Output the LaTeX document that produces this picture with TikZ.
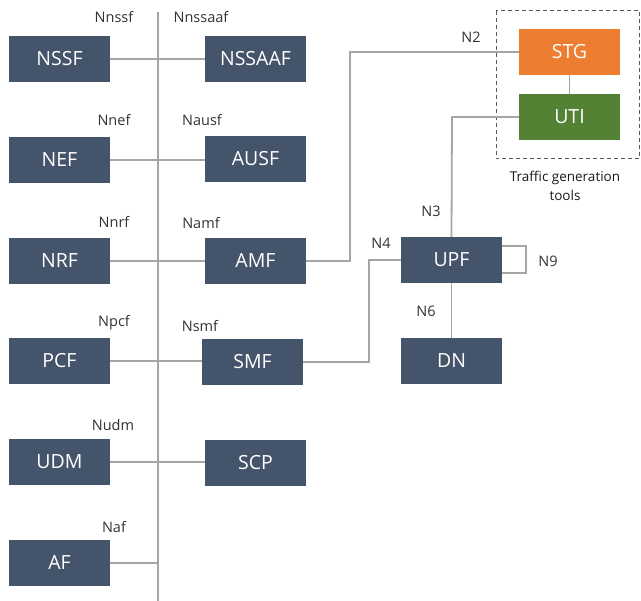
\documentclass[tikz,border=0pt]{standalone}
\usepackage{fontspec}
\setmainfont{Open Sans}
\usetikzlibrary{positioning}
\definecolor{nfblue}{HTML}{44546A}
\definecolor{stgorange}{HTML}{ED7D31}
\definecolor{utigreen}{HTML}{548235}
\definecolor{linkgray}{HTML}{A6A6A6}
\tikzset{
    core diagram/.style = {x=1pt, y=-1pt},
    nf/.style           = {fill=nfblue, text=white, inner sep=0pt,
                           minimum width=101pt, minimum height=46pt,
                           font=\fontsize{19.5}{22}\selectfont},
    tool/.style         = {nf, fill=#1},
    link/.style         = {draw=linkgray, line width=1.8pt},
    iface/.style        = {text=black!80, font=\fontsize{14.5}{17}\selectfont},
    caption/.style      = {text=black!90, align=center,
                           font=\fontsize{13.5}{19}\selectfont},
    toolbox/.style      = {draw=black!65, line width=1pt,
                           dash pattern=on 4pt off 3pt}
}

\begin{document}
\begin{tikzpicture}[core diagram]
\useasboundingbox (0,0) rectangle (641,601);

% ================= Service bus =================
\coordinate (bus top) at (158, 12);
\coordinate (bus bottom) at (158, 601);
\draw[link] (bus top) -- (bus bottom);

% ================= Network functions =================
\node[nf] (nssf)   at (59.5, 59)   {NSSF};
\node[nf] (nssaaf) at (255.5, 59)  {NSSAAF};
\node[nf] (nef)    at (59.5, 160)  {NEF};
\node[nf] (ausf)   at (255.5, 159) {AUSF};
\node[nf] (nrf)    at (59.5, 261)  {NRF};
\node[nf] (amf)    at (255.5, 261) {AMF};
\node[nf] (pcf)    at (59.5, 361)  {PCF};
\node[nf] (smf)    at (252.5, 362) {SMF};
\node[nf] (udm)    at (59.5, 462)  {UDM};
\node[nf] (scp)    at (255.5, 463) {SCP};
\node[nf] (af)     at (59.5, 563)  {AF};
\node[nf] (upf)    at (451.5, 260) {UPF};
\node[nf] (dn)     at (451.5, 361) {DN};

% ================= Bus attachments =================
\draw[link] (nssf.east) -- (nssaaf.west);
\draw[link] (nef.east) -- (ausf.west |- nef.east);
\draw[link] (nrf.east) -- (amf.west);
\draw[link] (pcf.east) -- (smf.west |- pcf.east);
\draw[link] (udm.east) -- (scp.west |- udm.east);
\draw[link] (af.east) -- (bus top |- af.east);

\node[iface] (l nnssf)   at (114, 17)  {Nnssf};
\node[iface] (l nnssaaf) at (201, 17)  {Nnssaaf};
\node[iface] (l nnef)    at (114, 120) {Nnef};
\node[iface] (l nausf)   at (202, 120) {Nausf};
\node[iface] (l nnrf)    at (114, 222) {Nnrf};
\node[iface] (l namf)    at (201, 223) {Namf};
\node[iface] (l npcf)    at (114, 323) {Npcf};
\node[iface] (l nsmf)    at (200, 326) {Nsmf};
\node[iface] (l nudm)    at (113, 425) {Nudm};
\node[iface] (l naf)     at (114, 527) {Naf};

% ================= Traffic generation tools =================
\node[tool=stgorange] (stg) at (569.5, 52)  {STG};
\node[tool=utigreen]  (uti) at (569.5, 117) {UTI};
\draw[link] (stg) -- (uti);
\draw[toolbox] (496, 11) rectangle (639.5, 159);
\node[caption] (tools) at (565, 186) {Traffic generation\\tools};

% ================= User plane and reference points =================
\coordinate (n2 bend) at (350, 52);
\draw[link] (amf.east) -| (n2 bend) -- (stg.west);
\coordinate (n3 bend) at (452, 117);
\draw[link] (uti.west) -- (n3 bend) -- (upf.north);
\coordinate (n4 bend) at (369, 260);
\draw[link] (smf.east) -| (n4 bend) -- (upf.west);
\draw[link] (upf.south) -- (dn.north);
\coordinate (n9 top) at (526, 246);
\coordinate (n9 bottom) at (526, 273);
\draw[link] (upf.east |- n9 top) -- (n9 top) -- (n9 bottom)
    -- (upf.east |- n9 bottom);

\node[iface] (l n2) at (471, 37)  {N2};
\node[iface] (l n3) at (431, 211) {N3};
\node[iface] (l n4) at (381, 243) {N4};
\node[iface] (l n6) at (426, 311) {N6};
\node[iface] (l n9) at (548, 261) {N9};

\end{tikzpicture}
\end{document}
